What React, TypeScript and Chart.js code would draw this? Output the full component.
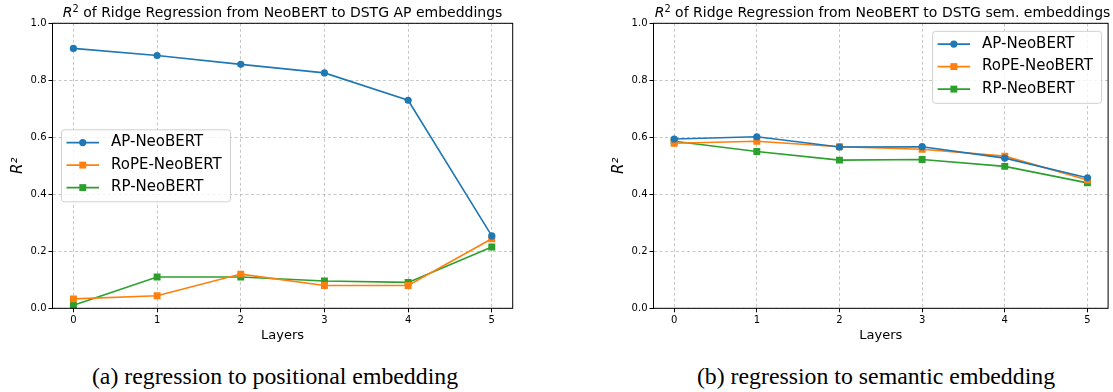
import React, { useEffect, useRef } from "react";
import { Chart, registerables } from "chart.js";

Chart.register(...registerables);

// ---------- data ----------
const LAYERS = [0, 1, 2, 3, 4, 5];
const Y_TICKS = [0, 0.2, 0.4, 0.6, 0.8, 1.0];
const SERIES_NAMES = ["AP-NeoBERT", "RoPE-NeoBERT", "RP-NeoBERT"];

const POS_AP = [0.912, 0.887, 0.856, 0.826, 0.73, 0.254];
const POS_ROPE = [0.033, 0.044, 0.12, 0.08, 0.08, 0.244];
const POS_RP = [0.011, 0.11, 0.11, 0.096, 0.091, 0.215];

const SEM_AP = [0.594, 0.602, 0.566, 0.567, 0.527, 0.458];
const SEM_ROPE = [0.579, 0.586, 0.567, 0.558, 0.534, 0.45];
const SEM_RP = [0.586, 0.55, 0.52, 0.522, 0.498, 0.44];

const TITLE_A = " of Ridge Regression from NeoBERT to DSTG AP embeddings";
const TITLE_B = " of Ridge Regression from NeoBERT to DSTG sem. embeddings";
const CAPTION_A = "(a) regression to positional embedding";
const CAPTION_B = "(b) regression to semantic embedding";
const X_LABEL = "Layers";
const Y_LABEL = "R²";

// ---------- styles ----------
const COLORS = ["#1f77b4", "#ff7f0e", "#2ca02c"];
const MARKERS = ["circle", "rect", "rect"];
const RADII = [3.6, 4.9, 4.9];
const SANS = '"DejaVu Sans", sans-serif';

const H = 350;
const PLOT_TOP = 23.3;
const PLOT_BOTTOM = 308.3;
const Y_AXIS_W = 52.5;

const overlayPlugin = {
  id: "mplOverlay",
  afterDraw(chart: any, _args: any, opts: any) {
    const { ctx, chartArea: a } = chart;
    ctx.save();
    // frame
    ctx.strokeStyle = "#000";
    ctx.lineWidth = 1;
    ctx.strokeRect(a.left, a.top, a.right - a.left, a.bottom - a.top);
    // legend
    const w = 169;
    const h = 72;
    let x: number;
    let y: number;
    if (opts.anchor === "centerLeft") {
      x = a.left + opts.padX;
      y = (a.top + a.bottom) / 2 - h / 2;
    } else {
      x = a.right - opts.padX - w;
      y = a.top + opts.padY;
    }
    const r = 3;
    ctx.beginPath();
    ctx.moveTo(x + r, y);
    ctx.lineTo(x + w - r, y);
    ctx.arcTo(x + w, y, x + w, y + r, r);
    ctx.lineTo(x + w, y + h - r);
    ctx.arcTo(x + w, y + h, x + w - r, y + h, r);
    ctx.lineTo(x + r, y + h);
    ctx.arcTo(x, y + h, x, y + h - r, r);
    ctx.lineTo(x, y + r);
    ctx.arcTo(x, y, x + r, y, r);
    ctx.closePath();
    ctx.fillStyle = "rgba(255,255,255,0.8)";
    ctx.fill();
    ctx.strokeStyle = "#d0d0d0";
    ctx.lineWidth = 1;
    ctx.stroke();
    chart.data.datasets.forEach((ds: any, i: number) => {
      const cy = y + 12.8 + i * 22.5;
      ctx.strokeStyle = ds.borderColor;
      ctx.lineWidth = 1.6;
      ctx.beginPath();
      ctx.moveTo(x + 5, cy);
      ctx.lineTo(x + 37.5, cy);
      ctx.stroke();
      const mx = x + 21.25;
      ctx.fillStyle = ds.borderColor;
      if (ds.pointStyle === "circle") {
        ctx.beginPath();
        ctx.arc(mx, cy, ds.pointRadius, 0, Math.PI * 2);
        ctx.fill();
      } else {
        const s = ds.pointRadius * Math.SQRT1_2;
        ctx.fillRect(mx - s, cy - s, 2 * s, 2 * s);
      }
      ctx.fillStyle = "#000";
      ctx.font = "15px " + SANS;
      ctx.textBaseline = "middle";
      ctx.textAlign = "left";
      ctx.fillText(ds.label, x + 49.5, cy);
    });
    ctx.restore();
  },
};

type PanelProps = {
  left: number;
  width: number;
  plotRight: number;
  series: number[][];
  legend: { anchor: string; padX: number; padY: number };
};

function Panel({ left, width, plotRight, series, legend }: PanelProps) {
  const ref = useRef<HTMLCanvasElement | null>(null);
  useEffect(() => {
    if (!ref.current) return;
    const datasets = series.map((vals, i) => ({
      label: SERIES_NAMES[i],
      data: LAYERS.map((l, j) => ({ x: l, y: vals[j] })),
      borderColor: COLORS[i],
      backgroundColor: COLORS[i],
      borderWidth: 1.6,
      pointStyle: MARKERS[i],
      pointRadius: RADII[i],
      pointBorderWidth: 0,
      pointBackgroundColor: COLORS[i],
      tension: 0,
    }));
    const chart = new Chart(ref.current, {
      type: "line",
      data: { datasets },
      plugins: [overlayPlugin],
      options: {
        animation: false,
        responsive: false,
        events: [],
        layout: {
          padding: { top: PLOT_TOP, right: width - (plotRight - left), left: 0, bottom: 0 },
        },
        plugins: {
          legend: { display: false },
          title: { display: false },
          tooltip: { enabled: false },
          mplOverlay: legend,
        } as any,
        scales: {
          x: {
            type: "linear",
            min: -0.25,
            max: 5.25,
            afterBuildTicks: (s: any) => {
              s.ticks = LAYERS.map((v) => ({ value: v }));
            },
            afterFit: (s: any) => {
              s.height = H - PLOT_BOTTOM;
            },
            ticks: {
              color: "#000",
              font: { family: SANS, size: 10 },
              padding: 2,
              maxRotation: 0,
              callback: (v: any) => String(v),
            },
            grid: {
              color: "rgba(176,176,176,0.9)",
              lineWidth: 0.8,
              drawTicks: true,
              tickLength: 4,
              tickColor: "#000",
              tickWidth: 1,
              tickBorderDash: [],
            },
            border: { display: false, dash: [3, 2.5] },
            title: {
              display: true,
              text: X_LABEL,
              color: "#000",
              font: { family: SANS, size: 13 },
              padding: { top: 0, bottom: 7 },
            },
          },
          y: {
            type: "linear",
            min: 0,
            max: 1,
            afterBuildTicks: (s: any) => {
              s.ticks = Y_TICKS.map((v) => ({ value: v }));
            },
            afterFit: (s: any) => {
              s.width = Y_AXIS_W;
            },
            ticks: {
              color: "#000",
              font: { family: SANS, size: 10 },
              padding: 2,
              callback: (v: any) => Number(v).toFixed(1),
            },
            grid: {
              color: "rgba(176,176,176,0.9)",
              lineWidth: 0.8,
              drawTicks: true,
              tickLength: 4,
              tickColor: "#000",
              tickWidth: 1,
              tickBorderDash: [],
            },
            border: { display: false, dash: [3, 2.5] },
            title: {
              display: true,
              text: Y_LABEL,
              color: "#000",
              font: { family: SANS, size: 15, style: "italic" },
              padding: { top: 9, bottom: 0 },
            },
          },
        },
      } as any,
    });
    return () => chart.destroy();
  }, []);
  return (
    <canvas
      ref={ref}
      width={width}
      height={H}
      style={{ position: "absolute", left, top: 0, width, height: H, display: "block" }}
    />
  );
}

function Title({ cx, text }: { cx: number; text: string }) {
  return (
    <div
      style={{
        position: "absolute",
        left: cx,
        top: 12,
        transform: "translate(-50%, -50%)",
        whiteSpace: "nowrap",
        fontFamily: SANS,
        fontSize: 14,
        color: "#000",
        lineHeight: 1,
      }}
    >
      <i>R</i>
      <span style={{ fontSize: "0.7em", verticalAlign: "0.5em", lineHeight: 0 }}>2</span>
      {text}
    </div>
  );
}

function Caption({ cx, text }: { cx: number; text: string }) {
  return (
    <div
      style={{
        position: "absolute",
        left: cx,
        top: 377,
        transform: "translate(-50%, -50%)",
        whiteSpace: "nowrap",
        fontFamily: '"Liberation Serif", "Times New Roman", serif',
        fontSize: 23.8,
        color: "#000",
        lineHeight: 1,
      }}
    >
      {text}
    </div>
  );
}

export default function App() {
  return (
    <div
      style={{
        position: "absolute",
        left: 0,
        top: 0,
        width: 1113,
        height: 392,
        background: "#fff",
        overflow: "hidden",
      }}
    >
      <Panel
        left={0}
        width={556}
        plotRight={512.7}
        series={[POS_AP, POS_ROPE, POS_RP]}
        legend={{ anchor: "centerLeft", padX: 9, padY: 8 }}
      />
      <Panel
        left={601}
        width={512}
        plotRight={1111.7}
        series={[SEM_AP, SEM_ROPE, SEM_RP]}
        legend={{ anchor: "topRight", padX: 6.5, padY: 8 }}
      />
      <Title cx={282.6} text={TITLE_A} />
      <Title cx={882.5} text={TITLE_B} />
      <Caption cx={275} text={CAPTION_A} />
      <Caption cx={876} text={CAPTION_B} />
    </div>
  );
}
